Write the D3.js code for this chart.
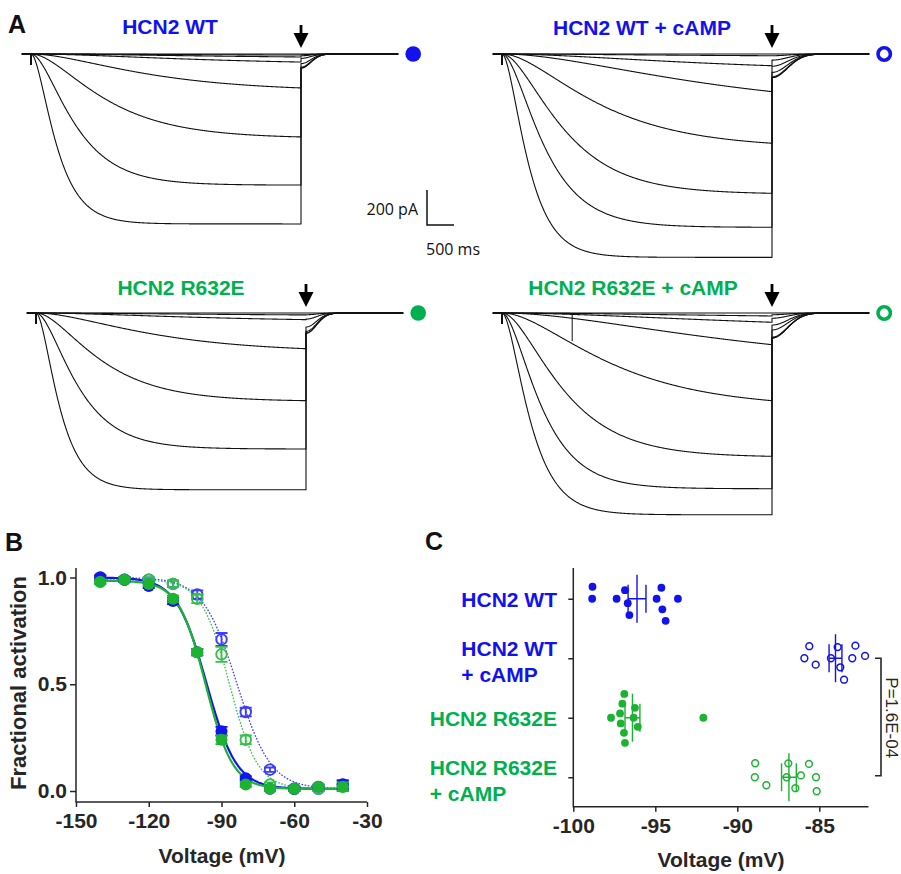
<!DOCTYPE html>
<html><head><meta charset="utf-8">
<script src="https://cdn.jsdelivr.net/npm/d3@7"></script>
<style>body{margin:0;background:#fff}svg{display:block}</style>
</head><body>
<svg id="fig" width="901" height="874"></svg>
<script>
// ================= DATA =================
// Panel A: current traces. amp = current at end of the 5 s step (pA), tau = activation time constant (ms), tail = tail current (pA)
const stepDuration = 5000;      // ms
const capAmp = 60;              // pA, capacitive transient
const wtAmp   = [971, 749, 474, 194, 46, 17, 6, 0];
const wtTau   = [360, 620, 1050, 1650, 2500, 3000, 3000, 3000];
const wtTail  = [80, 80, 75, 55, 25, 10, 4, 0];

const wtCampAmp  = [1162, 990, 796, 510, 215, 67, 10, 0];
const wtCampTau  = [370, 600, 870, 1380, 3000, 3000, 3000, 3000];
const wtCampTail = [135, 135, 130, 105, 70, 35, 10, 0];

const r632eAmp  = [1010, 777, 501, 204, 38, 11, 0];
const r632eTau  = [336, 590, 920, 1650, 2500, 3000, 3000];
const r632eTail = [115, 115, 105, 80, 35, 10, 0];

const r632eCampAmp  = [1153, 1004, 819, 501, 181, 53, 17, 0];
const r632eCampTau  = [400, 560, 870, 1550, 3500, 4000, 4000, 4000];
const r632eCampTail = [143, 143, 138, 97, 69, 30, 10, 0];
const r632eCampArtifact = [1300, 160]; // ms, pA

const scaleBarCurrent = 200; // pA
const scaleBarTime = 500;    // ms

// Panel B: activation curves
const volts = [-140, -130, -120, -110, -100, -90, -80, -70, -60, -50, -40];
const wtAct        = [1.00, 0.99, 0.96, 0.89, 0.65, 0.28, 0.06, 0.01, 0.01, 0.02, 0.03];
const wtActSem     = [0.01, 0.01, 0.01, 0.015, 0.015, 0.02, 0.01, 0.01, 0.01, 0.01, 0.02];
const r632eAct     = [0.98, 0.99, 0.97, 0.90, 0.65, 0.24, 0.03, 0.01, 0.01, 0.02, 0.02];
const r632eActSem  = [0.01, 0.01, 0.01, 0.015, 0.015, 0.02, 0.01, 0.01, 0.01, 0.01, 0.02];
const wtCampAct    = [1.00, 0.99, 0.99, 0.97, 0.92, 0.71, 0.37, 0.10, 0.01, 0.01, 0.03];
const wtCampActSem = [0.01, 0.01, 0.01, 0.015, 0.02, 0.03, 0.02, 0.01, 0.01, 0.01, 0.02];
const r632eCampAct    = [0.98, 0.99, 0.99, 0.97, 0.90, 0.64, 0.24, 0.03, 0.01, 0.01, 0.02];
const r632eCampActSem = [0.01, 0.01, 0.01, 0.015, 0.02, 0.035, 0.02, 0.01, 0.01, 0.01, 0.02];
// Boltzmann fits: [V1/2 (mV), slope k (mV), top, bottom]
const wtFit        = [-96.2, 6.2, 1.0, 0.01];
const r632eFit     = [-96.5, 5.6, 0.985, 0.01];
const wtCampFit    = [-83.7, 7.0, 1.0, 0.01];
const r632eCampFit = [-86.7, 5.8, 0.99, 0.01];
const xTicksB = [-150, -120, -90, -60, -30];
const yTicksB = [0, 0.5, 1.0];

// Panel C: V1/2 of individual cells (mV)
const categoriesC = ["HCN2 WT", "HCN2 WT + cAMP", "HCN2 R632E", "HCN2 R632E + cAMP"];
const wtV12        = [-98.85, -98.83, -97.36, -96.85, -96.68, -96.58, -94.92, -94.63, -94.57, -94.37, -93.62];
const wtCampV12    = [-85.91, -85.61, -85.22, -84.29, -83.88, -83.72, -83.49, -82.99, -82.80, -82.21];
const r632eV12     = [-97.70, -97.15, -97.11, -97.01, -96.91, -96.89, -96.85, -96.32, -96.24, -96.07, -92.07];
const r632eCampV12 = [-88.93, -88.91, -88.23, -86.99, -86.89, -86.46, -86.12, -85.63, -85.20, -85.16];
const xTicksC = [-100, -95, -90, -85];
const pValueText = "P=1.6E-04";

// ================= STYLE =================
const BLUE = "#1212ee", GREEN_T = "#00b050", GREEN = "#1cb232";
const AX = "#262626";
const FONT = "'Liberation Sans', Arial, sans-serif";
const svg = d3.select("#fig");
const plain = d => String(d);

// ================= PANEL A =================
const tStart = -170, tEnd = 6800;
const panelsA = [
  {title: "HCN2 WT", amp: wtAmp, tau: wtTau, tail: wtTail, tailTau: 250, x0: 31, y0: 54, color: BLUE, open: false, tx: 170, ty: 34},
  {title: "HCN2 WT + cAMP", amp: wtCampAmp, tau: wtCampTau, tail: wtCampTail, tailTau: 400, x0: 502, y0: 54, color: BLUE, open: true, tx: 642, ty: 35},
  {title: "HCN2 R632E", amp: r632eAmp, tau: r632eTau, tail: r632eTail, tailTau: 270, x0: 36, y0: 313, color: GREEN_T, open: false, tx: 181, ty: 295},
  {title: "HCN2 R632E + cAMP", amp: r632eCampAmp, tau: r632eCampTau, tail: r632eCampTail, tailTau: 400, x0: 502, y0: 313, color: GREEN_T, open: true, tx: 633, ty: 295, artifact: r632eCampArtifact}
];
let scaleRef = null;
panelsA.forEach(p => {
  const g = svg.append("g");
  const xt = d3.scaleLinear().domain([0, stepDuration]).range([p.x0, p.x0 + 270]);
  const yi = d3.scaleLinear().domain([0, -1000]).range([p.y0, p.y0 + 175]);
  if (!scaleRef) scaleRef = {xt, yi};
  const line = d3.line().x(d => xt(d[0])).y(d => yi(d[1]));
  p.amp.forEach((a, i) => {
    const tau = p.tau[i], tail = p.tail[i];
    const norm = Math.pow(1 - Math.exp(-stepDuration / tau), 2);
    const pts = [[tStart, 0], [0, 0], [0, -capAmp], [6, -capAmp * 0.3]];
    for (let t = 10; t <= stepDuration; t += 10) pts.push([t, -a * Math.pow(1 - Math.exp(-t / tau), 2) / norm]);
    pts.push([stepDuration, -tail]);
    for (let s = 10; s <= 1700; s += 10) pts.push([stepDuration + s, -tail * Math.exp(-Math.pow(s / p.tailTau, 2))]);
    pts.push([tEnd, 0]);
    g.append("path").attr("d", line(pts)).attr("fill", "none")
      .attr("stroke", "#111").attr("stroke-width", 1.1).attr("stroke-linejoin", "round");
  });
  if (p.artifact) {
    g.append("line").attr("x1", xt(p.artifact[0])).attr("x2", xt(p.artifact[0]))
      .attr("y1", yi(0)).attr("y2", yi(-p.artifact[1])).attr("stroke", "#111").attr("stroke-width", 1);
  }
  g.append("text").attr("x", p.tx).attr("y", p.ty).attr("text-anchor", "middle")
    .attr("font-family", FONT).attr("font-weight", "bold").attr("font-size", 21)
    .attr("fill", p.color).text(p.title);
  const ax = xt(stepDuration), tip = p.y0 - 6;
  g.append("rect").attr("x", ax - 1.4).attr("y", tip - 23).attr("width", 2.8).attr("height", 10).attr("fill", "#000");
  g.append("path").attr("d", `M${ax - 7.5},${tip - 15}L${ax + 7.5},${tip - 15}L${ax},${tip}Z`).attr("fill", "#000");
  const mx = xt(tEnd) + 15;
  if (p.open) g.append("circle").attr("cx", mx).attr("cy", p.y0).attr("r", 6.2).attr("fill", "none")
      .attr("stroke", p.color).attr("stroke-width", 3.6);
  else g.append("circle").attr("cx", mx).attr("cy", p.y0).attr("r", 7.8).attr("fill", p.color);
});
// scale bar
{
  const {xt, yi} = scaleRef;
  const w = xt(scaleBarTime) - xt(0), h = yi(-scaleBarCurrent) - yi(0);
  const cx = 427, cy = 225;
  svg.append("path").attr("d", `M${cx},${cy - h}L${cx},${cy}L${cx + w},${cy}`)
    .attr("fill", "none").attr("stroke", "#111").attr("stroke-width", 1.5);
  svg.append("text").attr("x", cx - 9).attr("y", cy - 10).attr("text-anchor", "end")
    .attr("font-family", "'Open Sans', sans-serif").attr("font-size", 16).attr("fill", "#111")
    .text(scaleBarCurrent + " pA");
  svg.append("text").attr("x", cx - 1).attr("y", cy + 30)
    .attr("font-family", "'Open Sans', sans-serif").attr("font-size", 16).attr("fill", "#111")
    .text(scaleBarTime + " ms");
}
[["A", 8, 33], ["B", 5, 551], ["C", 425, 550]].forEach(([t, x, y]) =>
  svg.append("text").attr("x", x).attr("y", y).attr("font-family", FONT).attr("font-weight", "bold")
    .attr("font-size", 25).attr("fill", "#111").text(t));

// ================= PANEL B =================
{
  const g = svg.append("g");
  const xB = d3.scaleLinear().domain([-150, -30]).range([76, 367]);
  const yB = d3.scaleLinear().domain([0, 1]).range([791, 577.5]);
  const axisY = 802;
  const xAxis = g.append("g").attr("transform", `translate(0,${axisY})`)
    .call(d3.axisBottom(xB).tickValues(xTicksB).tickFormat(plain).tickSize(5).tickPadding(6));
  const yAxis = g.append("g").attr("transform", `translate(76,0)`)
    .call(d3.axisLeft(yB).tickValues(yTicksB).tickFormat(d3.format(".1f")).tickSize(6).tickPadding(3));
  [xAxis, yAxis].forEach(a => {
    a.select(".domain").remove();
    a.selectAll("line").attr("stroke", AX).attr("stroke-width", 1.5);
    a.selectAll("text").attr("font-family", FONT).attr("font-weight", "bold").attr("font-size", 21).attr("fill", AX);
  });
  g.append("path").attr("d", `M76,568L76,${axisY}L367,${axisY}`).attr("fill", "none").attr("stroke", AX).attr("stroke-width", 1.5);
  g.append("text").attr("transform", "translate(26,683) rotate(-90)").attr("text-anchor", "middle")
    .attr("font-family", FONT).attr("font-weight", "bold").attr("font-size", 22).attr("fill", AX).text("Fractional activation");
  g.append("text").attr("x", 222).attr("y", 863).attr("text-anchor", "middle")
    .attr("font-family", FONT).attr("font-weight", "bold").attr("font-size", 21).attr("fill", AX).text("Voltage (mV)");

  const series = [
    {act: wtCampAct, sem: wtCampActSem, fit: wtCampFit, color: "#3d3dff", open: true},
    {act: r632eCampAct, sem: r632eCampActSem, fit: r632eCampFit, color: "#35c04a", open: true},
    {act: wtAct, sem: wtActSem, fit: wtFit, color: "#1414ee", open: false},
    {act: r632eAct, sem: r632eActSem, fit: r632eFit, color: GREEN, open: false}
  ];
  const fitV = d3.range(-140, -39.9, 0.5);
  const boltz = (v, f) => f[3] + (f[2] - f[3]) / (1 + Math.exp((v - f[0]) / f[1]));
  const fl = d3.line().x(d => xB(d[0])).y(d => yB(d[1]));
  series.forEach(s => {
    g.append("path").attr("d", fl(fitV.map(v => [v, boltz(v, s.fit)]))).attr("fill", "none")
      .attr("stroke", s.color).attr("stroke-width", s.open ? 1.3 : 2.2)
      .attr("stroke-dasharray", s.open ? "1.6,1.6" : null);
  });
  series.forEach(s => {
    volts.forEach((v, i) => {
      const cx = xB(v), cy = yB(s.act[i]);
      const y1 = yB(s.act[i] + s.sem[i]), y2 = yB(s.act[i] - s.sem[i]);
      g.append("path").attr("d", `M${cx},${y1}L${cx},${y2}M${cx - 6},${y1}L${cx + 6},${y1}M${cx - 6},${y2}L${cx + 6},${y2}`)
        .attr("stroke", s.color).attr("stroke-width", 1.8).attr("fill", "none");
      if (s.open) g.append("circle").attr("cx", cx).attr("cy", cy).attr("r", 5.3).attr("fill", "none")
        .attr("stroke", s.color).attr("stroke-width", 1.9);
      else g.append("circle").attr("cx", cx).attr("cy", cy).attr("r", 6).attr("fill", s.color);
    });
  });
}

// ================= PANEL C =================
{
  const g = svg.append("g");
  const xC = d3.scaleLinear().domain([-100, -82]).range([573.3, 868.5]);
  const yC = d3.scalePoint().domain(categoriesC).range([569, 807]).padding(0.5);
  const axisY = 806.7;
  const xAxis = g.append("g").attr("transform", `translate(0,${axisY})`)
    .call(d3.axisBottom(xC).tickValues(xTicksC).tickFormat(plain).tickSize(5).tickPadding(6));
  const yAxis = g.append("g").attr("transform", `translate(573.3,0)`)
    .call(d3.axisLeft(yC).tickSize(5).tickFormat(""));
  [xAxis, yAxis].forEach(a => {
    a.select(".domain").remove();
    a.selectAll("line").attr("stroke", AX).attr("stroke-width", 1.5);
    a.selectAll("text").attr("font-family", FONT).attr("font-weight", "bold").attr("font-size", 21).attr("fill", AX);
  });
  g.append("path").attr("d", `M573.3,568L573.3,${axisY}L868.5,${axisY}`).attr("fill", "none").attr("stroke", AX).attr("stroke-width", 1.5);
  g.append("text").attr("x", 721).attr("y", 867).attr("text-anchor", "middle")
    .attr("font-family", FONT).attr("font-weight", "bold").attr("font-size", 21).attr("fill", AX).text("Voltage (mV)");

  const labColors = [BLUE, BLUE, GREEN_T, GREEN_T];
  categoriesC.forEach((c, i) => {
    const y = yC(c);
    const parts = c.split(" + ");
    const t = (txt, x, yy, anchor) => g.append("text").attr("x", x).attr("y", yy).attr("text-anchor", anchor)
      .attr("font-family", FONT).attr("font-weight", "bold").attr("font-size", 21).attr("fill", labColors[i]).text(txt);
    if (parts.length === 1) t(parts[0], 557, y + 8.5, "end");
    else {
      const first = t(parts[0], 557, y - 2.5, "end");
      const len = first.node().getComputedTextLength();
      t("+ " + parts[1], 557 - len, y + 23.5, "start");
    }
  });

  function swarm(values, cy, minD) {
    const placed = [];
    return values.map(v => {
      const x = xC(v);
      const near = placed.filter(p => Math.abs(p.x - x) < minD);
      const cands = [0];
      near.forEach(p => { const d = Math.sqrt(minD * minD - (p.x - x) ** 2); cands.push(p.y + d, p.y - d); });
      cands.sort((a, b) => Math.abs(a) - Math.abs(b) || a - b);
      const y = cands.find(c => near.every(p => (p.x - x) ** 2 + (p.y - c) ** 2 >= minD * minD - 0.01));
      const pt = {x, y}; placed.push(pt); return pt;
    }).map(p => ({x: p.x, y: cy + p.y}));
  }
  const groups = [
    {vals: wtV12, color: BLUE, open: false, minD: 12},
    {vals: wtCampV12, color: BLUE, open: true, minD: 13},
    {vals: r632eV12, color: GREEN, open: false, minD: 10},
    {vals: r632eCampV12, color: GREEN, open: true, minD: 14}
  ];
  groups.forEach((gr, i) => {
    const cy = yC(categoriesC[i]);
    const pts = swarm(gr.vals, cy, gr.minD);
    pts.forEach(p => {
      if (gr.open) g.append("circle").attr("cx", p.x).attr("cy", p.y).attr("r", 3.4).attr("fill", "none")
        .attr("stroke", gr.color).attr("stroke-width", 1.5);
      else g.append("circle").attr("cx", p.x).attr("cy", p.y).attr("r", 3.9).attr("fill", gr.color);
    });
    const m = d3.mean(gr.vals), sem = d3.deviation(gr.vals) / Math.sqrt(gr.vals.length);
    const mx = xC(m), lo = xC(m - sem), hi = xC(m + sem);
    g.append("path").attr("d", `M${mx},${cy - 24}L${mx},${cy + 24}M${lo},${cy}L${hi},${cy}M${lo},${cy - 14}L${lo},${cy + 14}M${hi},${cy - 14}L${hi},${cy + 14}`)
      .attr("stroke", gr.color).attr("stroke-width", 1.4).attr("fill", "none");
  });
  const y1 = yC(categoriesC[1]), y2 = yC(categoriesC[3]);
  g.append("path").attr("d", `M875,${y1}L881,${y1}L881,${y2 - 1.5}L875,${y2 - 1.5}`).attr("fill", "none")
    .attr("stroke", AX).attr("stroke-width", 1.6);
  g.append("text").attr("transform", `translate(886,${(y1 + y2) / 2}) rotate(90)`).attr("text-anchor", "middle")
    .attr("font-family", FONT).attr("font-size", 17).attr("fill", AX).text(pValueText);
}
</script>
</body></html>
